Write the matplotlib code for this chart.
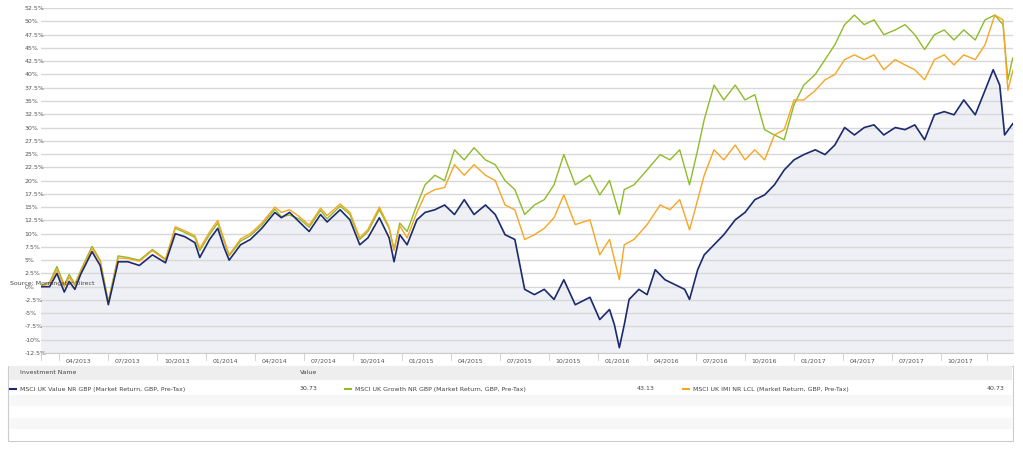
import matplotlib
matplotlib.use("Agg")
import matplotlib.pyplot as plt
from matplotlib.patches import Rectangle

# x positions in months since 01/2013
pre_t = [1.5, 2.0, 2.45, 2.9, 3.2, 3.55, 3.9, 4.6, 5.1, 5.6, 6.2, 6.8, 7.5, 8.3, 9.1, 9.7, 10.3, 10.9, 11.2,
         11.8, 12.3, 12.7, 13.0, 13.7, 14.3, 15.0, 15.8, 16.2, 16.7, 17.3, 17.9, 18.6, 19.0, 19.8, 20.4,
         21.0, 21.5, 22.2, 22.8, 23.1, 23.45]
value_pre = [0.0, 0.0, 2.5, -1.0, 1.0, -0.5, 2.3, 6.6, 4.0, -3.4, 4.7, 4.7, 4.0, 6.0, 4.5, 10.0, 9.4, 8.3, 5.5,
             8.9, 11.0, 7.3, 5.0, 7.9, 8.9, 11.0, 14.0, 13.0, 14.0, 12.2, 10.4, 13.6, 12.2, 14.5, 12.6,
             7.9, 9.2, 13.0, 9.2, 4.7, 9.8]
growth_pre = [0.3, 0.8, 3.8, 0.3, 2.3, 0.5, 3.0, 7.6, 5.0, -2.8, 5.8, 5.5, 5.0, 7.0, 5.2, 11.0, 10.2, 9.3, 6.8,
              9.8, 12.0, 8.5, 5.8, 8.6, 9.6, 11.6, 14.6, 13.2, 13.5, 12.8, 11.2, 14.4, 12.8, 15.2, 13.6,
              8.9, 10.4, 14.5, 11.0, 7.0, 12.0]
imi_pre = [0.2, 0.6, 3.2, 0.0, 1.8, 0.2, 2.8, 7.2, 4.8, -3.0, 5.4, 5.3, 4.8, 6.8, 5.0, 11.3, 10.5, 9.6, 7.2,
           10.3, 12.5, 8.8, 6.0, 9.0, 10.0, 12.0, 15.0, 14.0, 14.5, 13.2, 11.6, 14.8, 13.4, 15.6, 14.0,
           9.2, 10.8, 15.0, 11.2, 6.8, 11.5]

value_t = [23.9, 24.5, 25.0, 25.6, 26.2, 26.8, 27.4, 28.0, 28.7, 29.3, 29.9, 30.5, 31.1, 31.7, 32.3, 32.9,
           33.5, 34.2, 35.1, 35.7, 36.3, 36.6, 36.9, 37.2, 37.5, 38.1, 38.6, 39.1, 39.7, 40.3, 40.9, 41.2,
           41.7, 42.1, 42.7, 43.3, 44.0, 44.6, 45.2, 45.8, 46.4, 47.0, 47.6, 48.2, 48.9, 49.5, 50.1, 50.7,
           51.3, 51.9, 52.5, 53.1, 53.8, 54.4, 55.0, 55.6, 56.2, 56.8, 57.4, 58.0, 58.7, 59.3, 59.8, 60.2,
           60.5, 61.0]
value_v = [7.9, 12.6, 14.0, 14.5, 15.4, 13.6, 16.4, 13.6, 15.4, 13.6, 9.8, 8.9, -0.5, -1.5, -0.5, -2.4,
           1.3, -3.4, -2.0, -6.2, -4.3, -7.2, -11.5, -7.2, -2.4, -0.5, -1.5, 3.2, 1.3, 0.4, -0.5, -2.4,
           3.2, 6.0, 7.9, 9.8, 12.6, 14.0, 16.4, 17.3, 19.2, 22.0, 23.9, 24.9, 25.8, 24.9, 26.7, 30.0,
           28.6, 30.0, 30.5, 28.6, 30.0, 29.6, 30.5, 27.7, 32.4, 33.0, 32.4, 35.2, 32.4, 37.0, 40.9, 38.0,
           28.6, 30.73]

gi_t = [23.9, 24.5, 25.0, 25.6, 26.2, 26.8, 27.4, 28.0, 28.7, 29.3, 29.9, 30.5, 31.1, 31.7, 32.3, 32.9,
        33.5, 34.2, 35.1, 35.7, 36.3, 36.9, 37.2, 37.8, 38.6, 39.4, 40.0, 40.6, 41.2, 41.7, 42.1, 42.7,
        43.3, 44.0, 44.6, 45.2, 45.8, 46.4, 47.0, 47.6, 48.2, 48.9, 49.5, 50.1, 50.7, 51.3, 51.9, 52.5,
        53.1, 53.8, 54.4, 55.0, 55.6, 56.2, 56.8, 57.4, 58.0, 58.7, 59.3, 59.9, 60.4, 60.7, 61.0]
growth_v = [10.4, 15.4, 19.2, 21.0, 20.0, 25.8, 23.9, 26.2, 23.9, 23.0, 20.0, 18.3, 13.6, 15.4, 16.4, 19.2,
            24.9, 19.2, 21.0, 17.3, 20.0, 13.6, 18.3, 19.2, 22.0, 24.9, 23.9, 25.8, 19.2, 25.8, 31.5, 38.0,
            35.2, 38.0, 35.2, 36.2, 29.6, 28.6, 27.7, 34.3, 38.0, 40.0, 42.8, 45.6, 49.4, 51.2, 49.4, 50.3,
            47.5, 48.4, 49.4, 47.5, 44.7, 47.5, 48.4, 46.5, 48.4, 46.5, 50.3, 51.2, 49.4, 39.0, 43.13]
imi_v = [9.2, 14.0, 17.3, 18.3, 18.7, 23.0, 21.0, 23.0, 21.0, 20.0, 15.4, 14.5, 8.9, 9.8, 11.0, 13.0,
         17.3, 11.7, 12.6, 6.0, 8.9, 1.3, 7.9, 8.9, 11.7, 15.4, 14.5, 16.4, 10.7, 16.4, 21.0, 25.8,
         23.9, 26.7, 23.9, 25.8, 23.9, 28.6, 29.6, 35.2, 35.2, 37.0, 39.0, 40.0, 42.8, 43.7, 42.8, 43.7,
         40.9, 42.8, 41.8, 40.9, 39.0, 42.8, 43.7, 41.8, 43.7, 42.8, 45.6, 51.2, 50.3, 37.0, 40.73]

tick_pos = [3, 6, 9, 12, 15, 18, 21, 24, 27, 30, 33, 36, 39, 42, 45, 48, 51, 54, 57]
tick_labels = ["04/2013", "07/2013", "10/2013", "01/2014", "04/2014", "07/2014", "10/2014", "01/2015",
               "04/2015", "07/2015", "10/2015", "01/2016", "04/2016", "07/2016", "10/2016", "01/2017",
               "04/2017", "07/2017", "10/2017"]
names = ["MSCI UK Value NR GBP (Market Return, GBP, Pre-Tax)",
         "MSCI UK Growth NR GBP (Market Return, GBP, Pre-Tax)",
         "MSCI UK IMI NR LCL (Market Return, GBP, Pre-Tax)"]
final_vals = ["30.73", "43.13", "40.73"]
colors = ["#1c2a6e", "#8fbb2a", "#f6a623"]

fig = plt.figure(figsize=(10.23, 4.54), dpi=100)
ax = fig.add_axes([0.040, 0.2225, 0.950, 0.7595])
xlo, xhi = 1.47, 61.0
ax.set_xlim(xlo, xhi)
ax.set_ylim(-12.5, 52.5)

vt = pre_t + value_t
vv = value_pre + value_v
ax.fill_between(vt, vv, -12.5, color="#eef0f5", zorder=1)
ax.plot(pre_t + gi_t, growth_pre + growth_v, color=colors[1], lw=1.0, zorder=3)
ax.plot(pre_t + gi_t, imi_pre + imi_v, color=colors[2], lw=1.0, zorder=4)
ax.plot(vt, vv, color=colors[0], lw=1.2, zorder=5)

yt = [-12.5 + 2.5 * i for i in range(27)]
ax.set_yticks(yt)
def fmt(v):
    s = ("%.1f" % v).rstrip("0").rstrip(".")
    return s + "%"
ax.set_yticklabels([fmt(v) for v in yt], fontsize=4.5, color="#555555")
ax.yaxis.grid(True, color="#d8d8d8", lw=1.0, zorder=0)
ax.tick_params(axis="y", length=0, pad=12)
for lab in ax.get_yticklabels():
    lab.set_horizontalalignment("left")
ax.set_xticks(tick_pos)
ax.set_xticklabels(tick_labels, fontsize=4.5, color="#555555", ha="left")
ax.tick_params(axis="x", length=0, pad=4)
for p in [xlo] + [t - 0.4 for t in tick_pos] + [59.4]:
    ax.plot([p, p], [-12.5, -13.9], color="#cccccc", lw=0.6, clip_on=False)
for s in ["top", "right", "left"]:
    ax.spines[s].set_visible(False)
ax.spines["bottom"].set_color("#cccccc")

W, H = 1023, 454
def fx(x): return x / W
def fy(y): return 1 - y / H
fig.text(fx(10), fy(284), "Source: Morningstar Direct", fontsize=4.5, color="#444444", va="center", zorder=6)

# legend table
fig.patches.append(Rectangle((fx(8), fy(441)), fx(1005), (441 - 366) / H, transform=fig.transFigure,
                             fc="white", ec="#cccccc", lw=0.8))
fig.patches.append(Rectangle((fx(9), fy(380)), fx(1003), 14 / H, transform=fig.transFigure,
                             fc="#eeeeee", ec="none"))
for i, y0 in enumerate([395, 406, 418, 430]):
    if i % 2 == 0:
        fig.patches.append(Rectangle((fx(9), fy(y0 + 11)), fx(1003), 11 / H, transform=fig.transFigure,
                                     fc="#f7f7f7", ec="none"))
fig.text(fx(20), fy(373), "Investment Name", fontsize=4.5, color="#444444", va="center")
fig.text(fx(300), fy(373), "Value", fontsize=4.5, color="#444444", va="center")
xs = [(10, 20, 300), (345, 355, 637), (683, 693, 987)]
for (mx, tx, vx), nm, val, c in zip(xs, names, final_vals, colors):
    fig.lines.append(plt.Line2D([fx(mx), fx(mx + 6)], [fy(389), fy(389)], transform=fig.transFigure,
                                color=c, lw=1.5))
    fig.text(fx(tx), fy(389), nm, fontsize=4.5, color="#444444", va="center")
    fig.text(fx(vx), fy(389), val, fontsize=4.5, color="#444444", va="center")

fig.savefig("out.png", dpi=100)
